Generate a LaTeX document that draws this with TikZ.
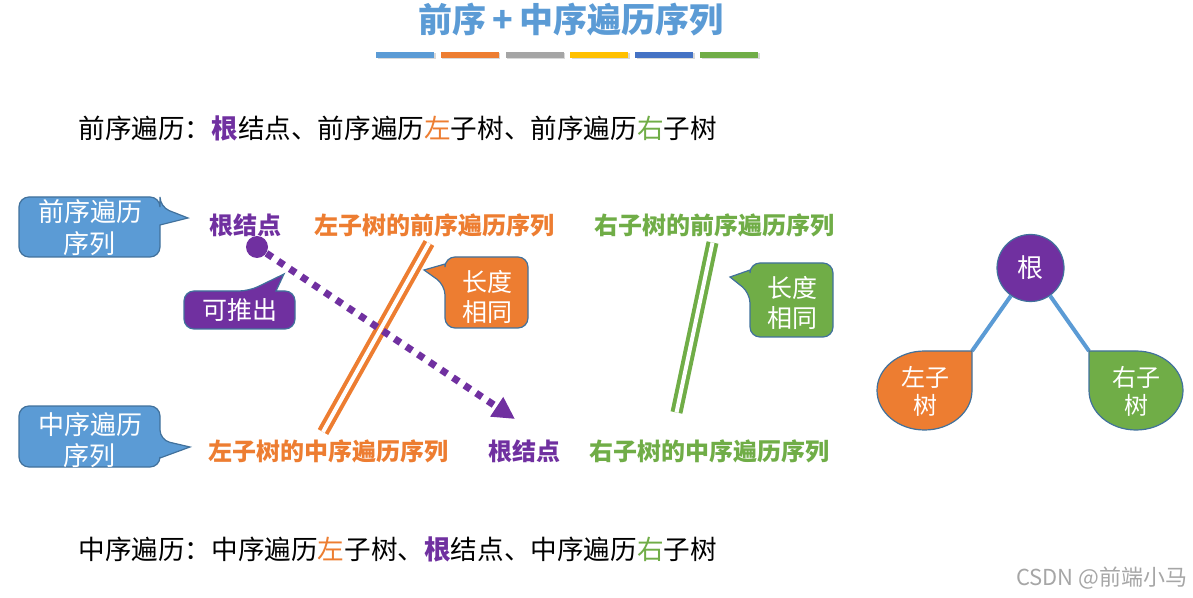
\documentclass[tikz,border=0pt]{standalone}
\usepackage{fontspec}
\setmainfont{Noto Sans CJK SC}
\usetikzlibrary{arrows.meta}

\definecolor{blueC}{HTML}{5B9BD5}
\definecolor{orangeC}{HTML}{ED7D31}
\definecolor{grayC}{HTML}{A5A5A5}
\definecolor{yellowC}{HTML}{FFC000}
\definecolor{darkblueC}{HTML}{4472C4}
\definecolor{greenC}{HTML}{70AD47}
\definecolor{purpleC}{HTML}{7030A0}
\definecolor{edgeC}{HTML}{41719C}

\tikzset{
    seqlabel/.style={font=\bfseries\fontsize{12}{14}\selectfont, inner sep=0pt},
    mainline/.style={font=\fontsize{13.3}{16}\selectfont, anchor=west, inner sep=0pt},
    callout/.style={draw=edgeC, line width=0.6pt, rounded corners=5pt},
    callouttext/.style={text=white, align=center, inner sep=0pt},
    doubleline/.style={line width=2pt, double=white, double distance=2pt},
}

\begin{document}
\begin{tikzpicture}[x=0.5pt, y=-0.5pt]
    \useasboundingbox (0,0) rectangle (1193,598);

    % title
    \node[font=\bfseries\fontsize{17}{20}\selectfont, text=blueC] (title) at (571,20) {前序\,+\,中序遍历序列};
    \foreach \c [count=\i] in {blueC,orangeC,grayC,yellowC,darkblueC,greenC} {
        \fill[black!15] (376+\i*64.8-64.8+1.5,53.5) rectangle ++(58,6);
        \fill[\c] (376+\i*64.8-64.8,52) rectangle ++(58,6);
    }

    % the two rules
    \node[mainline] (preline) at (78,128) {前序遍历：{\bfseries\color{purpleC}根}结点、前序遍历{\color{orangeC}左}子树、前序遍历{\color{greenC}右}子树};
    \node[mainline] (inline) at (78,549) {中序遍历：中序遍历{\color{orangeC}左}子树、{\bfseries\color{purpleC}根}结点、中序遍历{\color{greenC}右}子树};

    % sequences
    \node[seqlabel, text=purpleC] (preroot) at (245,225) {根结点};
    \node[seqlabel, text=orangeC] (preleft) at (434,225) {左子树的前序遍历序列};
    \node[seqlabel, text=greenC] (preright) at (714,225) {右子树的前序遍历序列};
    \node[seqlabel, text=orangeC] (inleft) at (328,451) {左子树的中序遍历序列};
    \node[seqlabel, text=purpleC] (inroot) at (524,451) {根结点};
    \node[seqlabel, text=greenC] (inright) at (709,451) {右子树的中序遍历序列};

    % same length marks
    \coordinate (lenLtop) at (429,243);
    \coordinate (lenLbot) at (323,432);
    \coordinate (lenRtop) at (712.5,242.5);
    \coordinate (lenRbot) at (676.5,412.5);
    \draw[doubleline, orangeC] (lenLtop) -- (lenLbot);
    \draw[doubleline, greenC] (lenRtop) -- (lenRbot);

    % root can be found
    \node[circle, fill=purpleC, minimum size=11pt, inner sep=0pt] (rootdot) at (257,247) {};
    \coordinate (rootend) at (515,419);
    \draw[purpleC, line width=3.5pt, dash pattern=on 3.5pt off 3.5pt, -{Triangle[length=11pt,width=11pt]}] (rootdot) -- (rootend);

    % callouts
    \filldraw[callout, fill=blueC] (19,197) -- (160,197) -- (160,207) [sharp corners] -- (188,218) -- (160,225) [rounded corners=5pt] -- (160,257) -- (19,257) -- cycle;
    \node[callouttext, font=\fontsize{13}{16}\selectfont] (precall) at (90,228) {前序遍历\\序列};

    \filldraw[callout, fill=blueC] (19,406) -- (160,406) -- (160,440) [sharp corners] -- (190,447) -- (160,458) [rounded corners=5pt] -- (160,467) -- (19,467) -- cycle;
    \node[callouttext, font=\fontsize{13}{15.5}\selectfont] (incall) at (90,440) {中序遍历\\序列};

    \filldraw[callout, fill=purpleC] (184,291) -- (249,291) [sharp corners] -- (284,274) -- (276,291) [rounded corners=5pt] -- (295,291) -- (295,329) -- (184,329) -- cycle;
    \node[callouttext, font=\fontsize{12.5}{15}\selectfont] (findcall) at (239.5,310) {可推出};

    \filldraw[callout, fill=orangeC] (486,257) -- (528,257) -- (528,328) -- (445,328) -- (445,285) [sharp corners] -- (424,270) -- (445,264) [rounded corners=5pt] -- (445,257) -- cycle;
    \node[callouttext, font=\fontsize{12.5}{15}\selectfont] (lencallL) at (487,297) {长度\\相同};

    \filldraw[callout, fill=greenC] (791,263) -- (833,263) -- (833,337) -- (750,337) -- (750,293) [sharp corners] -- (730,277) -- (750,270) [rounded corners=5pt] -- (750,263) -- cycle;
    \node[callouttext, font=\fontsize{12.5}{15}\selectfont] (lencallR) at (792,303) {长度\\相同};

    % small tree
    \node[circle, draw=edgeC, line width=0.6pt, fill=purpleC, minimum size=33.5pt, inner sep=0pt, text=white, font=\fontsize{13}{15}\selectfont] (treeroot) at (1030.5,268) {根};
    \coordinate (lTip) at (972,351);
    \coordinate (rTip) at (1089,351);
    \draw[blueC, line width=2pt] (treeroot) -- (lTip);
    \draw[blueC, line width=2pt] (treeroot) -- (rTip);
    \filldraw[draw=edgeC, line width=0.6pt, fill=orangeC] (924.5,351) -- (lTip) -- (972,390.5) arc[start angle=0, end angle=270, x radius=47.5, y radius=39.5] -- cycle;
    \filldraw[draw=edgeC, line width=0.6pt, fill=greenC] (1136,351) -- (rTip) -- (1089,390.5) arc[start angle=180, end angle=-90, x radius=47, y radius=39.5] -- cycle;
    \node[callouttext, font=\fontsize{12}{14}\selectfont] (lsub) at (925,391) {左子\\树};
    \node[callouttext, font=\fontsize{12}{14}\selectfont] (rsub) at (1136,391) {右子\\树};

    % watermark
    \node[anchor=east, inner sep=0pt, text=black!35, font=\fontsize{11}{13}\selectfont] (mark) at (1188,578) {CSDN @前端小马};
\end{tikzpicture}
\end{document}
